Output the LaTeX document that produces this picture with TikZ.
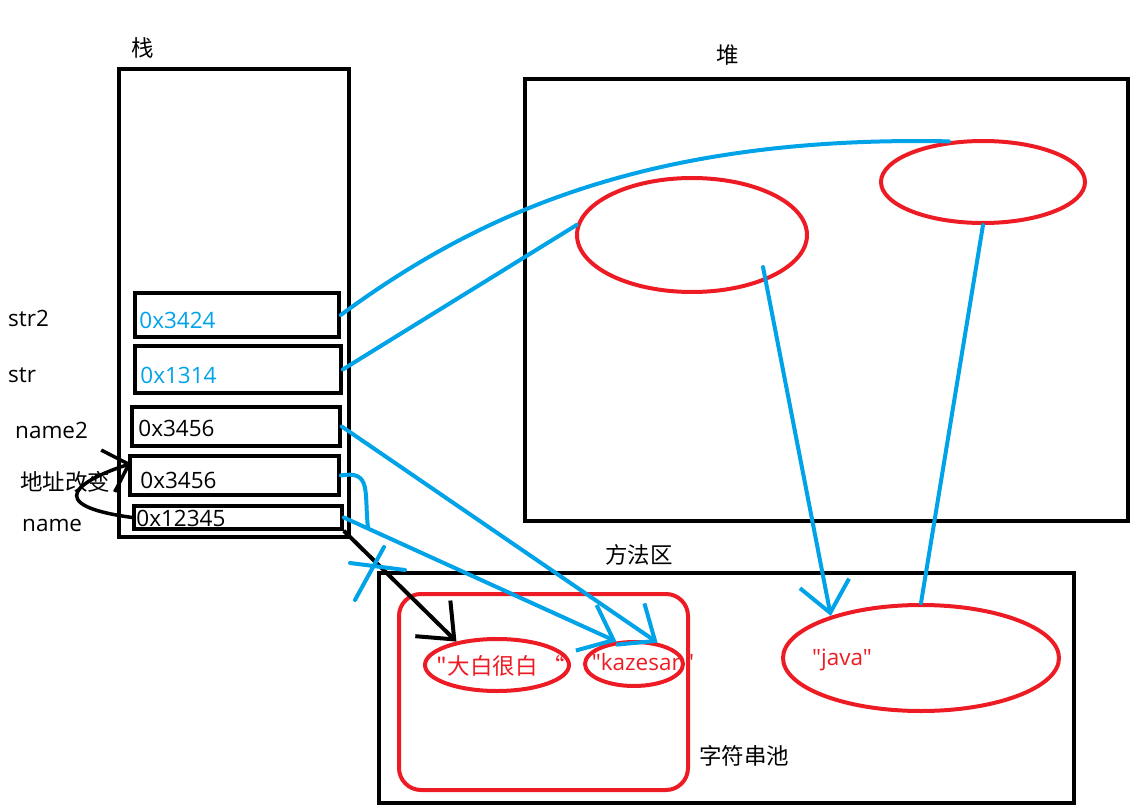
\documentclass[tikz,border=0pt]{standalone}
\usepackage{fontspec}
\newfontfamily\latin{Open Sans}
\newfontfamily\cjk{Noto Sans CJK SC}
\usepackage{tikz}
\usetikzlibrary{arrows.meta,shapes.geometric,calc}
\definecolor{paintblue}{RGB}{0,162,232}
\definecolor{paintred}{RGB}{237,28,36}

\begin{document}
\begin{tikzpicture}[x=1pt, y=-1pt, font=\fontsize{22.5}{26}\latin,
  blk/.style={draw, line width=4pt, inner sep=0pt},
  cell/.style={draw, line width=3.5pt, inner sep=0pt},
  oval/.style={draw=paintred, ellipse, line width=4pt, inner sep=0pt},
  lbl/.style={inner sep=0pt},
  lnk/.style={draw=paintblue, line width=4pt, line cap=round, line join=round},
  barb/.style={-{Straight Barb[length=30pt,width=50pt]}}]
\useasboundingbox (0,0) rectangle (1146,808);
\node[blk, minimum width=230pt, minimum height=468pt] (stack) at (234,303) {};
\node[blk, minimum width=603pt, minimum height=442pt] (heap) at (826.5,300) {};
\node[blk, minimum width=695pt, minimum height=230pt] (method) at (726.5,688) {};
\node[draw=paintred, line width=4pt, rounded corners=22pt, minimum width=289pt, minimum height=196pt] (pool) at (543.5,692) {};
\node[lbl] (tstack) at (143,48) {\cjk 栈};
\node[lbl] (theap) at (728,55) {\cjk 堆};
\node[lbl] (tmethod) at (639,555) {\cjk 方法区};
\node[lbl] (tpool) at (744,756) {\cjk 字符串池};
\foreach \n/\cx/\cy/\w/\h in {c1/237/315/204/44, c2/238/369.5/206/47, c3/236/426.5/208/39, c4/234.5/475.5/209/39, c5/238/517.5/208/23}
  \node[cell, minimum width=\w pt, minimum height=\h pt] (\n) at (\cx,\cy) {};
\node[lbl, anchor=west, text=paintblue] (v1) at ($(c1.west)+(6,5)$) {0x3424};
\node[lbl, anchor=west, text=paintblue] (v2) at ($(c2.west)+(7,5.5)$) {0x1314};
\node[lbl, anchor=west] (v3) at ($(c3.west)+(8,1.5)$) {0x3456};
\node[lbl, anchor=west] (v4) at ($(c4.west)+(12,4.5)$) {0x3456};
\node[lbl, anchor=west] (v5) at ($(c5.west)+(4,1)$) {0x12345};
\node[lbl, anchor=west] (lstr2) at (8,318) {str2};
\node[lbl, anchor=west] (lstr) at (8,375.5) {str};
\node[lbl, anchor=west] (lname2) at (15,430) {name2};
\node[lbl, anchor=west] (lchange) at (20,482) {\cjk 地址改变};
\node[lbl, anchor=west] (lname) at (22,525) {name};
\node[oval, minimum width=230pt, minimum height=114pt] (e1) at (692,235) {};
\node[oval, minimum width=204pt, minimum height=82pt] (e2) at (983,182) {};
\node[oval, minimum width=144pt, minimum height=52pt] (ebai) at (497,665) {};
\node[oval, minimum width=98pt, minimum height=44pt] (ekaze) at (634,664) {};
\node[oval, minimum width=276pt, minimum height=106pt] (ejava) at (921,658) {};
\node[lbl, text=paintred] (tbai) at (501,666) {\cjk "大白很白 “};
\node[lbl, text=paintred] (tkaze) at (643,662) {"kazesan"};
\node[lbl, text=paintred] (tjava) at (842,660) {"java"};
\draw[lnk] (c1.east) .. controls (470,220) and (640,135) .. (e2.130);
\draw[lnk] (c2.east) -- (e1.175);
\coordinate (e1in) at (763,267);
\draw[lnk, barb] (e1in) -- (ejava.155);
\draw[lnk] (e2.south) -- (ejava.north);
\draw[lnk, barb] (c3.east) -- (ekaze.42);
\draw[lnk, barb] (c5.east) -- (ekaze.128);
\coordinate (hookend) at (368,528);
\draw[lnk] (c4.east) .. controls (372,470) and (364,492) .. (hookend);
\draw[line width=4pt, barb] (c5.south east) -- (ebai.150);
\draw[lnk] (350,563) -- (405,570);
\draw[lnk] (384,547) -- (355,600);
\coordinate (c4tip) at ($(c4.west)+(3,-12)$);
\draw[line width=3.5pt, -{Straight Barb[length=22pt,width=44pt]}] (c5.west) .. controls (40,505) and (80,480) .. (c4tip);
\end{tikzpicture}
\end{document}
